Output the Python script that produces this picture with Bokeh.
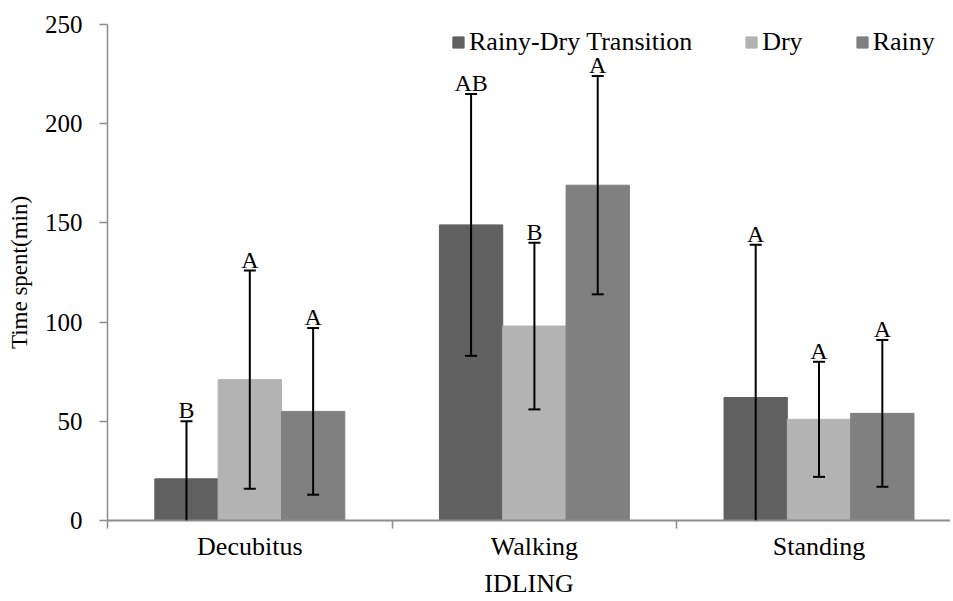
from bokeh.plotting import figure
from bokeh.models import (ColumnDataSource, Range1d, FixedTicker, Whisker, TeeHead,
                          Legend, LegendItem)
from bokeh.core.properties import value
from bokeh.embed import file_html
from bokeh.resources import INLINE

categories = ["Decubitus", "Walking", "Standing"]
series_names = ["Rainy-Dry Transition", "Dry", "Rainy"]
rdt = [21, 149, 62]
rdt_sd = [29, 66, 77]
dry = [71, 98, 51]
dry_sd = [55, 42, 29]
rainy = [55, 169, 54]
rainy_sd = [42, 55, 37]
rdt_letters = ["B", "AB", "A"]
dry_letters = ["A", "B", "A"]
rainy_letters = ["A", "A", "A"]
y_ticks = [0, 50, 100, 150, 200, 250]

colors = ["#606060", "#b3b3b3", "#808080"]
FONT = "Liberation Serif"
BW = 0.2225

p = figure(width=950, height=600, output_backend="svg", toolbar_location=None,
           x_range=Range1d(0, 2.962), y_range=Range1d(0, 250),
           min_border_left=107, min_border_right=0, min_border_top=24, min_border_bottom=70)
p.outline_line_color = None
p.xgrid.visible = False
p.ygrid.visible = False
p.background_fill_color = "white"

series = [(rdt, rdt_sd, rdt_letters), (dry, dry_sd, dry_letters), (rainy, rainy_sd, rainy_letters)]
offsets = [-BW, 0, BW]
items = []
for k, (vals, sds, letters) in enumerate(series):
    xs = [i + 0.5 + offsets[k] for i in range(len(categories))]
    lower = [max(0, v - s) for v, s in zip(vals, sds)]
    upper = [v + s for v, s in zip(vals, sds)]
    src = ColumnDataSource(dict(x=xs, top=vals, lower=lower, upper=upper, letters=letters))
    r = p.vbar(x="x", top="top", width=BW, source=src, fill_color=colors[k], line_color=colors[k])
    items.append(LegendItem(label=series_names[k], renderers=[r]))
    p.text(x="x", y="upper", text="letters", source=src, text_align="center",
           text_baseline="bottom", text_font=value(FONT), text_font_size="24px",
           text_color="black", y_offset=2)
    w = Whisker(source=src, base="x", lower="lower", upper="upper", line_color="black",
                line_width=2, level="overlay",
                upper_head=TeeHead(size=12, line_color="black", line_width=2),
                lower_head=None)
    p.add_layout(w)
    idx = [j for j in range(len(vals)) if lower[j] > 0]
    src2 = ColumnDataSource(dict(x=[xs[j] for j in idx], lower=[lower[j] for j in idx],
                                 upper=[lower[j] for j in idx]))
    w2 = Whisker(source=src2, base="x", lower="lower", upper="upper", line_alpha=0,
                 level="overlay",
                 lower_head=TeeHead(size=12, line_color="black", line_width=2),
                 upper_head=None)
    p.add_layout(w2)

axis_gray = "#8c8c8c"
# x axis
xa = p.xaxis[0]
xa.ticker = FixedTicker(ticks=[i + 0.5 for i in range(len(categories))],
                        minor_ticks=list(range(len(categories) + 1)))
xa.major_label_overrides = {i + 0.5: c for i, c in enumerate(categories)}
xa.major_tick_in = 0
xa.major_tick_out = 0
xa.minor_tick_in = 0
xa.minor_tick_out = 8
xa.minor_tick_line_color = axis_gray
xa.minor_tick_line_width = 1.5
xa.axis_line_color = axis_gray
xa.axis_line_width = 2
xa.major_label_text_font = FONT
xa.major_label_text_font_size = "26px"
xa.major_label_text_color = "black"
xa.major_label_standoff = 3
xa.axis_label = "IDLING"
xa.axis_label_text_font = FONT
xa.axis_label_text_font_size = "26px"
xa.axis_label_text_font_style = "normal"
xa.axis_label_text_color = "black"
xa.axis_label_standoff = 5

ya = p.yaxis[0]
ya.ticker = FixedTicker(ticks=y_ticks)
ya.minor_tick_line_color = None
ya.major_tick_in = 0
ya.major_tick_out = 8
ya.major_tick_line_color = axis_gray
ya.major_tick_line_width = 1.5
ya.axis_line_color = axis_gray
ya.axis_line_width = 1.5
ya.major_label_text_font = FONT
ya.major_label_text_font_size = "25px"
ya.major_label_text_color = "black"
ya.major_label_standoff = 17
ya.axis_label = "Time spent(min)"
ya.axis_label_text_font = FONT
ya.axis_label_text_font_size = "23px"
ya.axis_label_text_font_style = "normal"
ya.axis_label_text_color = "black"
ya.axis_label_standoff = 10

legend = Legend(items=items, orientation="horizontal", location=(344, 463),
                glyph_width=14, glyph_height=14, label_standoff=4, spacing=52,
                padding=0, margin=0, border_line_alpha=0, background_fill_alpha=0,
                label_text_font=FONT, label_text_font_size="26px", label_text_color="black")
p.add_layout(legend, "center")

open("out.html", "w").write(file_html(p, INLINE))
